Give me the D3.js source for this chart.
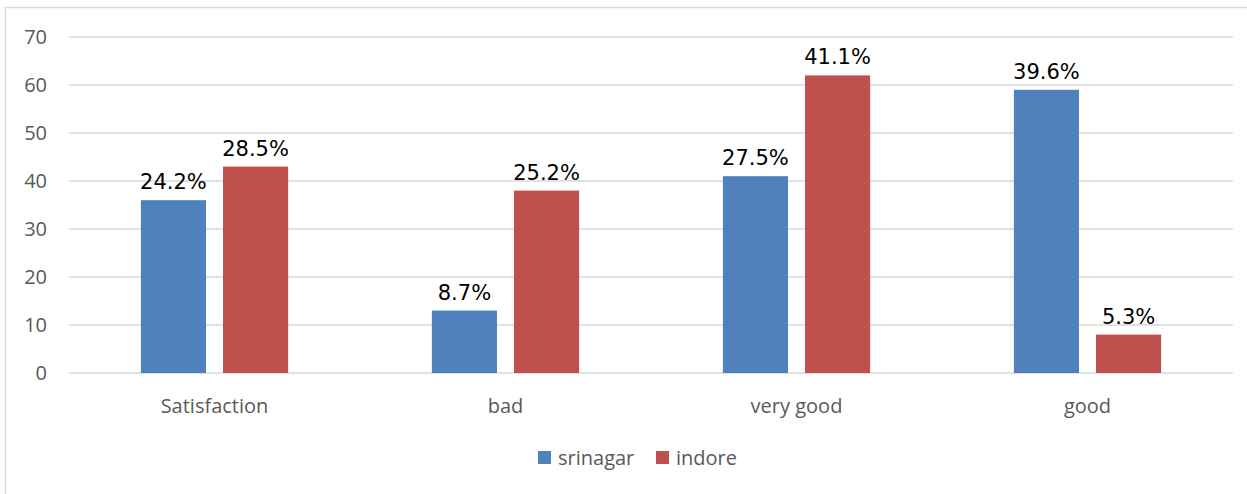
<!DOCTYPE html>
<html>
<head>
<meta charset="utf-8">
<script src="https://cdn.jsdelivr.net/npm/d3@7"></script>
<style>
  body { margin: 0; background: #fff; }
  svg text { font-family: "Open Sans", sans-serif; }
</style>
</head>
<body>
<div class="g-chart"></div>
<script>
var categories = ["Satisfaction", "bad", "very good", "good"];
var seriesNames = ["srinagar", "indore"];
var srinagar = [36, 13, 41, 59];
var indore = [43, 38, 62, 8];
var srinagarLabels = ["24.2%", "8.7%", "27.5%", "39.6%"];
var indoreLabels = ["28.5%", "25.2%", "41.1%", "5.3%"];
var yTicks = [0, 10, 20, 30, 40, 50, 60, 70];
var colors = ["#4f81bd", "#c0504d"];

var width = 1247, height = 494;
var margin = {top: 37, right: 14, bottom: 121, left: 69};
var innerW = width - margin.left - margin.right,
    innerH = height - margin.top - margin.bottom;

var svg = d3.select(".g-chart").append("svg")
    .attr("width", width)
    .attr("height", height);

// chart frame
svg.append("path")
    .attr("d", "M5.5,494 V7.5 H1247")
    .attr("fill", "none")
    .attr("stroke", "#d9d9d9")
    .attr("stroke-width", 1.5);

var g = svg.append("g").attr("transform", `translate(${margin.left},${margin.top})`);

var x0 = d3.scaleBand().domain(categories).range([0, innerW]).padding(0);
var groupW = x0.bandwidth() * 0.506;
var x1 = d3.scaleBand().domain(seriesNames)
    .range([(x0.bandwidth() - groupW) / 2, (x0.bandwidth() + groupW) / 2])
    .paddingInner(0.207).paddingOuter(0);
var y = d3.scaleLinear().domain([0, 70]).range([innerH, 0]);

// gridlines
g.selectAll(".grid").data(yTicks).enter().append("line")
    .attr("x1", 0).attr("x2", innerW)
    .attr("y1", d => y(d)).attr("y2", d => y(d))
    .attr("stroke", "#d9d9d9").attr("stroke-width", 1.5);

// y axis labels
var yAxis = d3.axisLeft(y).tickValues(yTicks).tickSize(0).tickPadding(22);
var ya = g.append("g").call(yAxis);
ya.select(".domain").remove();
ya.selectAll("text").attr("fill", "#595959").style("font-size", "20px");

// x axis labels
var xAxis = d3.axisBottom(x0).tickSize(0).tickPadding(26);
var xa = g.append("g").attr("transform", `translate(0,${innerH})`).call(xAxis);
xa.select(".domain").remove();
xa.selectAll("text").attr("fill", "#595959").style("font-size", "20px");

var rows = categories.map((c, i) => ({
  cat: c,
  vals: [
    {s: seriesNames[0], v: srinagar[i], label: srinagarLabels[i]},
    {s: seriesNames[1], v: indore[i], label: indoreLabels[i]}
  ]
}));

var grp = g.selectAll(".cat").data(rows).enter().append("g")
    .attr("transform", d => `translate(${x0(d.cat)},0)`);

grp.selectAll("rect").data(d => d.vals).enter().append("rect")
    .attr("x", d => x1(d.s))
    .attr("y", d => y(d.v))
    .attr("width", x1.bandwidth())
    .attr("height", d => innerH - y(d.v))
    .attr("fill", (d, i) => colors[i]);

grp.selectAll(".lbl").data(d => d.vals).enter().append("text")
    .attr("x", d => x1(d.s) + x1.bandwidth() / 2)
    .attr("y", d => y(d.v) - 11)
    .attr("text-anchor", "middle")
    .style("font-family", "'DejaVu Sans', sans-serif")
    .style("font-size", "21px")
    .attr("fill", "#000")
    .text(d => d.label);

// legend
var legend = svg.append("g").attr("transform", "translate(538,451)");
var items = [{name: seriesNames[0], x: 0}, {name: seriesNames[1], x: 118}];
var li = legend.selectAll("g").data(items).enter().append("g")
    .attr("transform", d => `translate(${d.x},0)`);
li.append("rect").attr("width", 13).attr("height", 13)
    .attr("fill", (d, i) => colors[i]);
li.append("text").attr("x", 20).attr("y", 14)
    .attr("fill", "#595959").style("font-size", "20px")
    .text(d => d.name);
</script>
</body>
</html>
